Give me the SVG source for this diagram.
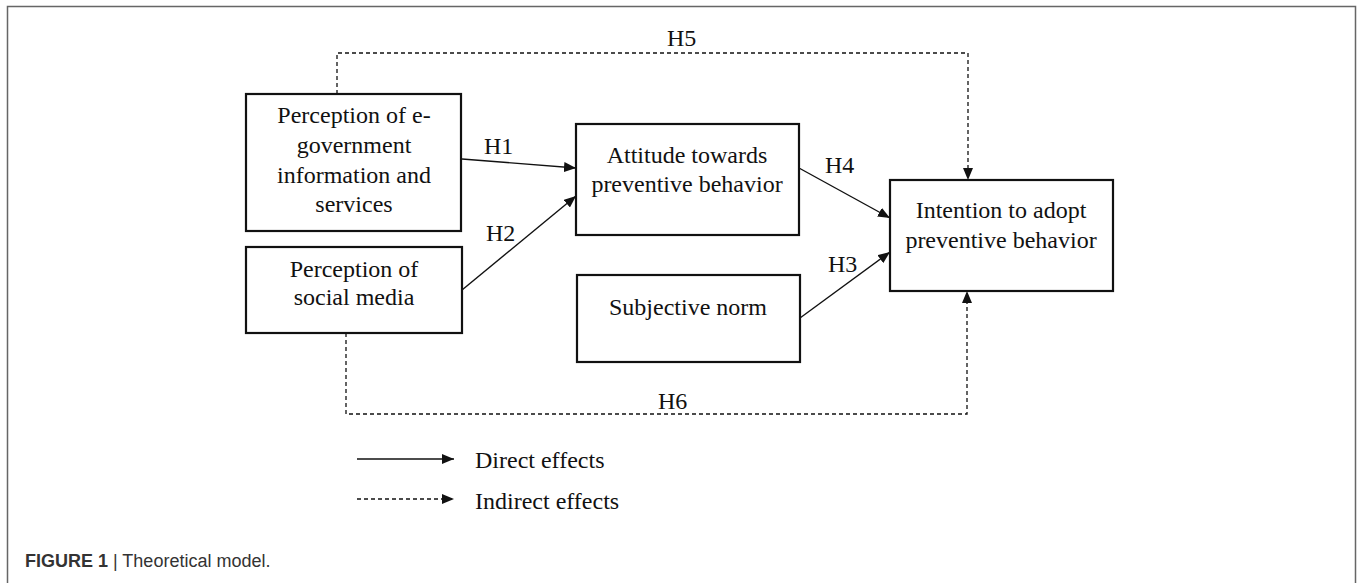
<svg xmlns="http://www.w3.org/2000/svg" width="1357" height="583" viewBox="0 0 1357 583">
<style>
.box{fill:#fff;stroke:#111;stroke-width:2.2}
.t{font-family:"Liberation Serif","Times New Roman",serif;font-size:24px;fill:#111}
.c{text-anchor:middle}
.ln{fill:none;stroke:#111;stroke-width:1.4}
.dash{fill:none;stroke:#111;stroke-width:1.3;stroke-dasharray:4 3}
.cap{font-family:"Liberation Sans",Arial,sans-serif;font-size:18px;fill:#333}
</style>
<defs>
<marker id="ah" viewBox="0 0 12 10" refX="12" refY="5" markerWidth="12" markerHeight="10" markerUnits="userSpaceOnUse" orient="auto">
<path d="M0,0 L12,5 L0,10 z" fill="#111"/>
</marker>
</defs>
<rect x="0" y="0" width="1357" height="583" fill="#fff"/>
<path d="M7.5,590 V6.5 H1355.5 V590" fill="none" stroke="#666" stroke-width="1.5"/>

<g id="connectors">
<line class="ln" x1="462" y1="159" x2="576" y2="168" marker-end="url(#ah)"/>
<line class="ln" x1="462" y1="290" x2="576" y2="196" marker-end="url(#ah)"/>
<line class="ln" x1="799" y1="168" x2="890" y2="218" marker-end="url(#ah)"/>
<line class="ln" x1="800" y1="318" x2="890" y2="252" marker-end="url(#ah)"/>
<path class="dash" d="M337,94 V53 H968 V180" marker-end="url(#ah)"/>
<path class="dash" d="M346,333 V414 H967 V291" marker-end="url(#ah)"/>
<text class="t" x="484" y="154">H1</text>
<text class="t" x="486" y="241">H2</text>
<text class="t" x="825" y="173">H4</text>
<text class="t" x="828" y="272">H3</text>
<text class="t" x="667" y="46">H5</text>
<text class="t" x="658" y="409">H6</text>
</g>

<g id="node-egov">
<rect class="box" x="246" y="94" width="215" height="137"/>
<text class="t c" x="354" y="123">Perception of e-</text>
<text class="t c" x="354" y="153">government</text>
<text class="t c" x="354" y="183">information and</text>
<text class="t c" x="354" y="212">services</text>
</g>

<g id="node-social">
<rect class="box" x="246" y="247" width="216" height="86"/>
<text class="t c" x="354" y="277">Perception of</text>
<text class="t c" x="354" y="305">social media</text>
</g>

<g id="node-attitude">
<rect class="box" x="576" y="124" width="223" height="111"/>
<text class="t c" x="687" y="163">Attitude towards</text>
<text class="t c" x="687" y="192">preventive behavior</text>
</g>

<g id="node-norm">
<rect class="box" x="577" y="275" width="223" height="87"/>
<text class="t c" x="688" y="315">Subjective norm</text>
</g>

<g id="node-intention">
<rect class="box" x="890" y="180" width="223" height="111"/>
<text class="t c" x="1001" y="218">Intention to adopt</text>
<text class="t c" x="1001" y="248">preventive behavior</text>
</g>

<g id="legend">
<line class="ln" x1="357" y1="459" x2="454" y2="459" marker-end="url(#ah)"/>
<line class="dash" x1="357" y1="499" x2="454" y2="499" marker-end="url(#ah)"/>
<text class="t" x="475" y="468">Direct effects</text>
<text class="t" x="475" y="509">Indirect effects</text>
</g>

<text class="cap" x="25" y="567"><tspan font-weight="bold">FIGURE 1</tspan> | Theoretical model.</text>
</svg>
